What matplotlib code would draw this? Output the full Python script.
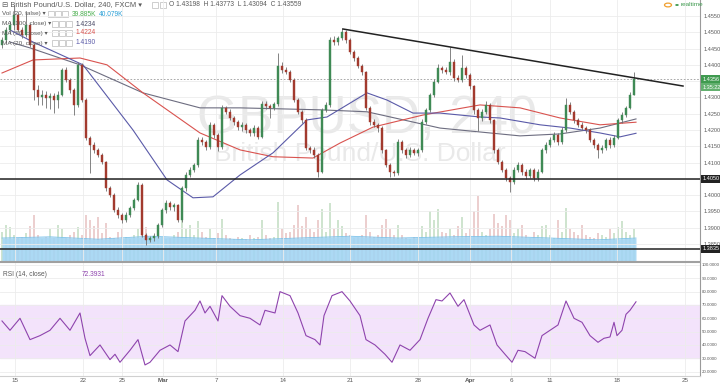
import matplotlib
matplotlib.use('Agg')
import matplotlib.pyplot as plt
from matplotlib.patches import Rectangle, Circle
import numpy as np

plt.rcParams['font.family'] = ['Liberation Sans', 'DejaVu Sans']

# ---- data (one candle per slot, GBP/USD 240) ----
first_open = 1.4461
closes = [
    1.4476, 1.4507, 1.4522, 1.4553, 1.4507, 1.4492, 1.4522, 1.4461, 1.4323, 1.4301,
    1.4308, 1.4298, 1.4305, 1.4292, 1.4308, 1.4384, 1.4354, 1.4323, 1.4277, 1.4400,
    1.4292, 1.4176, 1.4154, 1.4139, 1.4124, 1.4102, 1.4022, 1.4001, 1.3955, 1.3940,
    1.3924, 1.3940, 1.3961, 1.3986, 1.4032, 1.3878, 1.3863, 1.3869, 1.3875, 1.3909,
    1.3955, 1.3976, 1.3964, 1.3970, 1.3924, 1.4022, 1.4062, 1.4078, 1.4093, 1.4170,
    1.4163, 1.4148, 1.4216, 1.4185, 1.4148, 1.4268, 1.4256, 1.4237, 1.4225, 1.4209,
    1.4216, 1.4200, 1.4191, 1.4206, 1.4179, 1.4280, 1.4274, 1.4268, 1.4280, 1.4397,
    1.4384, 1.4378, 1.4354, 1.4292, 1.4256, 1.4231, 1.4145, 1.4139, 1.4124, 1.4072,
    1.4262, 1.4277, 1.4476, 1.4470, 1.4482, 1.4501, 1.4476, 1.4440, 1.4421, 1.4397,
    1.4378, 1.4268, 1.4225, 1.4216, 1.4206, 1.4139, 1.4093, 1.4072, 1.4068, 1.4163,
    1.4139, 1.4124, 1.4139, 1.4130, 1.4139, 1.4225, 1.4262, 1.4308, 1.4348, 1.4390,
    1.4384, 1.4378, 1.4409, 1.4360, 1.4354, 1.4390, 1.4369, 1.4335, 1.4262, 1.4237,
    1.4256, 1.4277, 1.4231, 1.4139, 1.4102, 1.4078, 1.4053, 1.4041, 1.4078, 1.4093,
    1.4072, 1.4059, 1.4078, 1.4053, 1.4072, 1.4139, 1.4154, 1.4170, 1.4185, 1.4163,
    1.4200, 1.4277, 1.4256, 1.4231, 1.4216, 1.4206, 1.4200, 1.4170, 1.4154, 1.4139,
    1.4145, 1.4170, 1.4154, 1.4176, 1.4231, 1.4246, 1.4268, 1.4308, 1.4356,
]
# wick lengths in pips above / below the body
wick_up = [
    8, 10, 12, 31, 6, 8, 40, 5, 6, 15,
    15, 12, 8, 10, 12, 6, 8, 6, 5, 9,
    6, 5, 6, 8, 5, 6, 4, 6, 5, 8,
    6, 8, 5, 6, 8, 4, 5, 6, 8, 5,
    6, 8, 6, 5, 4, 6, 8, 10, 6, 8,
    10, 6, 8, 6, 5, 9, 6, 8, 5, 6,
    8, 6, 5, 8, 6, 10, 8, 6, 6, 39,
    12, 8, 6, 5, 6, 4, 5, 6, 8, 5,
    6, 8, 10, 12, 8, 12, 6, 5, 6, 5,
    6, 4, 6, 8, 6, 5, 4, 6, 5, 8,
    6, 5, 8, 6, 5, 8, 6, 6, 8, 12,
    8, 10, 46, 10, 8, 40, 8, 5, 4, 6,
    10, 12, 6, 4, 5, 6, 4, 6, 10, 8,
    6, 8, 6, 5, 8, 6, 8, 10, 8, 6,
    8, 21, 8, 6, 5, 8, 6, 5, 6, 6,
    8, 6, 8, 10, 6, 10, 6, 8, 21,
]
wick_dn = [
    10, 8, 12, 15, 6, 10, 8, 6, 31, 25,
    25, 30, 35, 40, 25, 5, 8, 10, 30, 6,
    5, 6, 86, 10, 8, 6, 8, 6, 8, 10,
    8, 6, 8, 6, 5, 6, 15, 8, 10, 6,
    8, 10, 8, 12, 6, 5, 8, 6, 8, 5,
    10, 8, 6, 10, 12, 5, 8, 6, 10, 8,
    12, 8, 10, 8, 6, 5, 8, 30, 6, 5,
    8, 6, 8, 6, 8, 10, 6, 8, 10, 15,
    5, 8, 6, 10, 8, 6, 8, 6, 8, 6,
    8, 6, 10, 8, 12, 8, 6, 16, 8, 5,
    8, 10, 6, 8, 10, 5, 6, 8, 6, 5,
    8, 6, 8, 10, 8, 6, 8, 10, 12, 40,
    8, 6, 10, 8, 6, 8, 10, 31, 6, 8,
    10, 8, 6, 10, 8, 5, 8, 6, 8, 10,
    6, 5, 8, 10, 8, 6, 10, 8, 10, 25,
    8, 6, 10, 6, 5, 8, 6, 5, 2,
]
volume_k = [
    50, 62, 58, 45, 40, 42, 48, 60, 78, 45,
    38, 42, 55, 40, 62, 55, 40, 45, 50, 58,
    45, 78, 70, 60, 75, 48, 65, 42, 40, 50,
    55, 42, 38, 45, 55, 60, 58, 40, 38, 45,
    42, 38, 40, 45, 50, 80, 55, 62, 45, 68,
    50, 42, 55, 40, 48, 72, 45, 40, 38, 42,
    40, 38, 45, 40, 42, 70, 45, 40, 42, 100,
    55, 48, 50, 62, 95, 60, 75, 55, 50, 70,
    88, 50, 98, 55, 70, 60, 48, 45, 40, 42,
    45, 78, 50, 42, 45, 62, 72, 55, 45, 62,
    45, 40, 38, 42, 40, 60, 50, 85, 70, 88,
    50, 48, 55, 45, 60, 75, 48, 55, 85, 110,
    50, 45, 55, 80, 65, 60, 78, 70, 48, 55,
    62, 45, 40, 50, 45, 60, 62, 45, 40, 70,
    50, 90, 55, 50, 45, 62, 45, 42, 40, 48,
    45, 42, 55, 48, 58, 68, 50, 45, 55,
]
vol_ma_bar = [0, 12, 24, 37, 49, 62, 74, 87, 99, 112, 124, 137, 149, 158.5]
vol_ma_k = [40, 42, 38, 43, 40, 37, 40, 43, 40, 42, 43, 40, 37, 40]

ma100_bar = [2, 7, 19.5, 35.25, 49.5, 59.5, 79.5, 91.25, 109.5, 119.5, 129.5, 139.5, 149.5, 158.5]
ma100 = [1.4470, 1.4452, 1.4400, 1.4314, 1.4268, 1.4268, 1.4262, 1.4256, 1.4206, 1.4194,
         1.4182, 1.4188, 1.4206, 1.4234]
ma50_bar = [0, 7.75, 19.5, 26.25, 35.25, 49.5, 59.5, 67.75, 77.75, 84.5, 92.75, 105.25,
            119.5, 129.5, 139.5, 149.5, 158.5]
ma50 = [1.4375, 1.4415, 1.4421, 1.4400, 1.4314, 1.4191, 1.4139, 1.4118, 1.4114, 1.4160,
        1.4209, 1.4246, 1.4277, 1.4268, 1.4237, 1.4216, 1.4224]
ma20_bar = [2, 7.75, 20.25, 32.75, 41.25, 47.75, 52.75, 59.5, 67.75, 76.25, 81.25, 91.25,
            96.25, 102.75, 109.5, 119.5, 124.5, 134.5, 142, 149.5, 154.5, 158.5]
ma20 = [1.4507, 1.4470, 1.4400, 1.4200, 1.4047, 1.3992, 1.3995, 1.4062, 1.4130, 1.4231,
        1.4240, 1.4314, 1.4292, 1.4252, 1.4252, 1.4240, 1.4237, 1.4216, 1.4206, 1.4191,
        1.4179, 1.4190]

rsi_bar = [0, 2, 4.5, 7, 9.5, 12, 14.5, 17, 19.5, 20.75, 22, 24.5, 27, 28.25, 29.5, 32, 34,
           35.75, 37, 39.5, 42, 44, 45.75, 48.25, 49.5, 50.75, 52, 54, 55, 57, 59.5, 62,
           64.5, 65.75, 68.25, 69.5, 72, 74, 76, 78.25, 79.5, 80.5, 82.5, 85, 87, 89.5, 91,
           93.25, 95.75, 97.5, 99.5, 102, 104.5, 106.5, 108.5, 110, 112, 114, 115.5, 118,
           119.5, 122, 123.75, 125.75, 127.5, 129, 130.75, 133.25, 135, 137, 139, 141, 143,
           145, 147, 149, 150.5, 152, 153, 153.75, 155, 156, 157, 158.5]
rsi_val = [58, 51, 60, 44, 47, 51, 60, 51, 64, 45, 32, 40, 29, 33, 27, 36, 44,
           25, 27, 36, 40, 35, 58, 66, 73, 64, 69, 58, 77, 69, 62, 60,
           55, 66, 64, 80, 77, 64, 47, 44, 40, 62, 77, 80, 73, 62, 44,
           40, 33, 27, 40, 36, 44, 60, 74, 73, 79, 69, 74, 55,
           51, 55, 40, 33, 27, 36, 35, 30, 47, 51, 55, 73, 60,
           57, 47, 42, 45, 46, 57, 47, 51, 63, 66, 72.39]

support_levels = [1.4050, 1.3835]
trend_bars = [85.25, 170.25]
trend_prices = [1.4510, 1.4335]
last_price = 1.4356

date_ticks = [3.25, 20.25, 30, 40.25, 53.5, 70.25, 87, 104, 117, 127.25, 137, 153.75, 170.75]
date_labels = ['15', '22', '25', 'Mar', '7', '14', '21', '28', 'Apr', '6', '11', '18', '25']

W, H = 720, 386
fig = plt.figure(figsize=(W / 100, H / 100), dpi=100)
ax = fig.add_axes([0, 1 - 262 / H, 700 / W, 262 / H])
rax = fig.add_axes([0, 1 - 376 / H, 700 / W, 113 / H], sharex=ax)
axv = ax.twinx()
ax.set_zorder(axv.get_zorder() + 1)
ax.patch.set_visible(False)

grid_c = '#ececec'
txt_c = '#5a5a5a'

# ---- candles ----
c = np.array(closes)
o = np.array([first_open] + closes[:-1])
idx = np.arange(len(c))
up = c >= o
hi = np.maximum(o, c) + np.array(wick_up) * 1e-4
lo = np.minimum(o, c) - np.array(wick_dn) * 1e-4
body_col = np.where(up, '#3f8a55', '#a23a2e')
ax.vlines(idx, lo, hi, color='#6f6f6f', lw=0.6, zorder=4)
ax.bar(idx, np.maximum(np.abs(c - o), 0.00012), bottom=np.minimum(o, c), width=0.5,
       color=body_col, edgecolor=body_col, lw=0.3, zorder=5)

# moving averages
ax.plot(ma100_bar, ma100, color='#6d6d80', lw=0.8, zorder=3)
ax.plot(ma50_bar, ma50, color='#d9534f', lw=0.8, zorder=3)
ax.plot(ma20_bar, ma20, color='#5a5aa8', lw=0.8, zorder=3)

# drawings
for lvl in support_levels:
    ax.axhline(lvl, color='#222222', lw=1.1, zorder=6)
ax.plot(trend_bars, trend_prices, color='#222222', lw=1.1, zorder=6)
ax.axhline(last_price, color='#9a9a9a', lw=0.6, ls=(0, (2, 2)), zorder=2)

# watermark
ax.text(0.524, 0.492, 'GBPUSD, 240', transform=ax.transAxes, ha='center', va='baseline',
        fontsize=38, color='#e9e9e9', zorder=1)
ax.text(0.514, 0.385, 'British Pound/U.S. Dollar', transform=ax.transAxes, ha='center',
        va='baseline', fontsize=19, color='#e9e9e9', zorder=1)

ax.set_xlim(-0.5, 174.5)
ax.set_ylim(1.3795, 1.4599)
price_ticks = np.arange(1.3850, 1.45501, 0.005)
hidden = ('1.4350', '1.4050')   # covered by the highlighted tags
ax.set_yticks(price_ticks)
ax.set_yticklabels(['' if ('%.4f' % v) in hidden else '%.4f' % v for v in price_ticks])
ax.yaxis.tick_right()
ax.tick_params(axis='y', length=0, pad=2.5, labelsize=4, labelcolor=txt_c)
ax.tick_params(axis='x', length=0, labelbottom=False)
ax.set_xticks(date_ticks)
ax.grid(True, color=grid_c, lw=0.6)
for s in ['top', 'left']:
    ax.spines[s].set_visible(False)
ax.spines['right'].set_color('#9a9a9a')
ax.spines['bottom'].set_color('#a0a0a0')
ax.spines['bottom'].set_linewidth(1.5)

# volume
vol_col = np.where(up, '#cfe4cf', '#eccfcf')
axv.bar(idx, volume_k, width=0.7, color=vol_col, zorder=1)
axv.fill_between(vol_ma_bar, 0, vol_ma_k, color='#a3d5f3', alpha=0.9, lw=0, zorder=2)
axv.plot(vol_ma_bar, vol_ma_k, color='#7cc2ea', lw=0.6, zorder=2)
axv.set_ylim(0, 437)
axv.set_yticks([])
for s in axv.spines.values():
    s.set_visible(False)

# highlighted price labels
def tag(price, text, fc):
    ax.text(1.0035, price, text, transform=ax.get_yaxis_transform(), ha='left', va='center',
            fontsize=4, color='white', zorder=10, clip_on=False,
            bbox=dict(boxstyle='square,pad=0.25', fc=fc, ec='none'))

tag(last_price, '1.4356', '#3f9a4f')
tag(last_price - 0.0025, '1:35:22', '#63b06f')
tag(support_levels[0], '1.4050', '#222222')
tag(support_levels[1], '1.3835', '#222222')

# ---- RSI ----
rax.axhspan(30, 70, color='#f3e3fb', zorder=0)
rax.plot(rsi_bar, rsi_val, color='#8e44ad', lw=0.8, zorder=3)
rax.set_ylim(16.7, 101.5)
rsi_ticks = np.arange(20, 101, 10)
rax.set_yticks(rsi_ticks)
rax.set_yticklabels(['%.4f' % v for v in rsi_ticks])
rax.yaxis.tick_right()
rax.tick_params(axis='y', length=0, pad=1.5, labelsize=3.2, labelcolor=txt_c)
rax.set_xticks(date_ticks)
rax.set_xticklabels(date_labels)
rax.tick_params(axis='x', length=0, pad=1.5, labelsize=4.5, labelcolor=txt_c)
for lab in rax.get_xticklabels():
    if lab.get_text() in ('Mar', 'Apr'):
        lab.set_fontweight('bold')
rax.grid(True, color=grid_c, lw=0.6)
for s in ['top', 'left']:
    rax.spines[s].set_visible(False)
rax.spines['right'].set_color('#9a9a9a')
rax.spines['bottom'].set_color('#d0d0d0')
rax.text(0.004, 0.9, 'RSI (14, close)', transform=rax.transAxes, fontsize=4.8, color=txt_c,
         va='center')
rax.text(0.117, 0.9, '72.3931', transform=rax.transAxes, fontsize=4.8, color='#8e44ad',
         va='center')

# ---- header legend ----
def ftxt(x, y, s, color=txt_c, size=4.6):
    fig.text(x / W, 1 - y / H, s, fontsize=size, color=color, va='center', ha='left')

def box(x, y):
    fig.add_artist(Rectangle((x / W, 1 - (y + 3) / H), 6 / W, 6 / H, transform=fig.transFigure,
                             fill=False, ec='#c6c6c6', lw=0.6))

ftxt(2, 5, '⊟ British Pound/U.S. Dollar, 240, FXCM ▾', size=5.4)
box(152, 5); box(160, 5)
ftxt(169, 5, 'O 1.43198  H 1.43773  L 1.43094  C 1.43559', size=4.8)
ftxt(2, 14, 'Vol (20, false) ▾')
for bx in (48, 55, 62):
    box(bx, 14)
ftxt(72, 14, '39.885K', color='#4caf50', size=4.8)
ftxt(99, 14, '40.079K', color='#2a9fd6', size=4.8)
rows = [(24, 'MA (100, close) ▾', '1.4234', '#4a4a66'),
        (33, 'MA (50, close) ▾', '1.4224', '#d9534f'),
        (43, 'MA (20, close) ▾', '1.4190', '#5a5aa8')]
for y, lbl, val, col in rows:
    ftxt(2, y, lbl)
    for bx in (52, 59, 66):
        box(bx, y)
    ftxt(76, y, val, color=col, size=4.8)

fig.add_artist(Circle((668 / W, 1 - 5 / H), 3.5 / W, transform=fig.transFigure, fill=False,
                      ec='#f0a030', lw=0.9))
fig.add_artist(Circle((677 / W, 1 - 5 / H), 1.8 / W, transform=fig.transFigure, fc='#3f9a4f',
                      ec='none'))
ftxt(681, 5, 'realtime', color='#3f9a4f', size=4.6)

fig.savefig('out.png', dpi=100)
